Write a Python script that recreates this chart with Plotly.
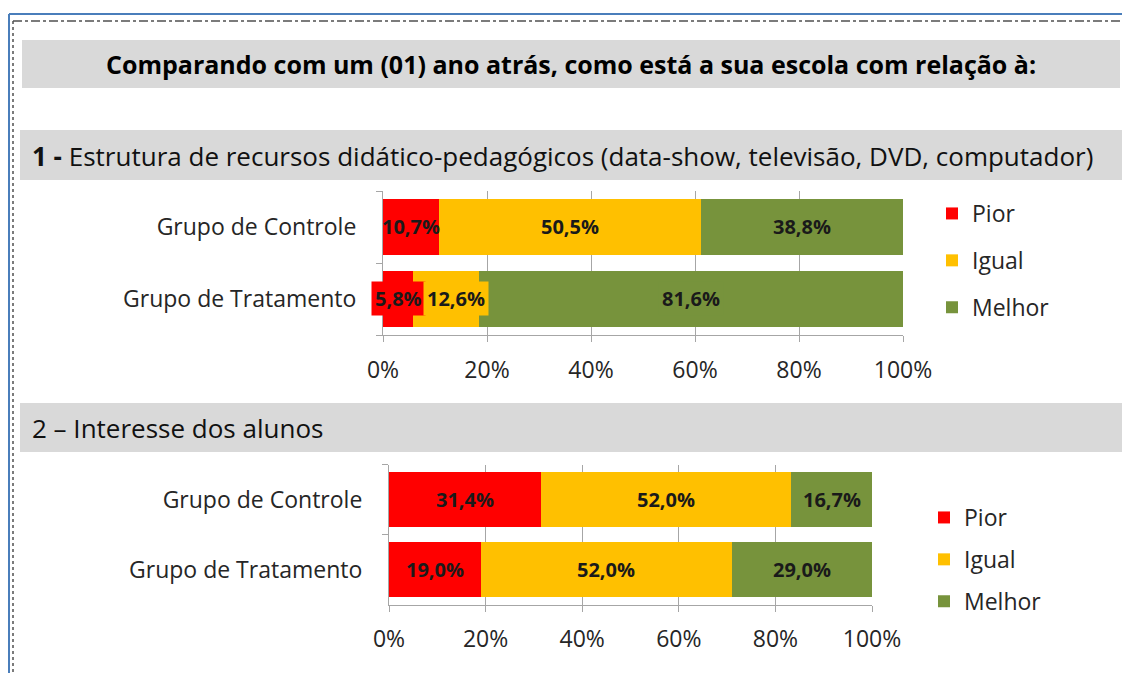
import plotly.graph_objects as go

# ---------------- data ----------------
categories = ["Grupo de Controle", "Grupo de Tratamento"]
series_names = ["Pior", "Igual", "Melhor"]
series_colors = ["#ff0000", "#ffc000", "#77933c"]

c1_pior = [10.7, 5.8]
c1_igual = [50.5, 12.6]
c1_melhor = [38.8, 81.6]

c2_pior = [31.4, 19.0]
c2_igual = [52.0, 52.0]
c2_melhor = [16.7, 29.0]

x_ticks = [0, 0.2, 0.4, 0.6, 0.8, 1.0]
x_tick_labels = ["0%", "20%", "40%", "60%", "80%", "100%"]

main_title = "<b>Comparando com um (01) ano atrás, como está a sua escola com relação à:</b>"
section1_title = "<b>1 -</b> Estrutura de recursos didático-pedagógicos (data-show, televisão, DVD, computador)"
section2_title = "2 – Interesse dos alunos"

W, H = 1130, 673
OFF = 8  # page body margin
FONT = "Open Sans"
TXT = "#262626"


def px(x):
    return (x - OFF) / W


def py(y):
    return 1 - (y - OFF) / H


fig = go.Figure()

charts = [
    ("x", "y", "legend", [c1_pior, c1_igual, c1_melhor]),
    ("x2", "y2", "legend2", [c2_pior, c2_igual, c2_melhor]),
]

annotations = []
for ci, (xa, ya, leg, data) in enumerate(charts):
    totals = [sum(d[i] for d in data) for i in range(len(categories))]
    for si, (name, color, vals) in enumerate(zip(series_names, series_colors, data)):
        fig.add_trace(go.Bar(
            y=categories, x=vals, name=name, orientation="h",
            marker=dict(color=color, line=dict(width=0)),
            xaxis=xa, yaxis=ya, legend=leg, legendgroup=f"{leg}_{name}",
            hoverinfo="skip",
        ))
    # data labels (Excel-like, with filled boxes where they overflow)
    for ki, cat in enumerate(categories):
        cum = 0.0
        for si, vals in enumerate(data):
            frac = vals[ki] / totals[ki]
            center = cum + frac / 2
            cum += frac
            filled = (ci == 0 and ki == 1)
            annotations.append(dict(
                x=center, y=cat, xref=xa, yref=ya,
                text=f"<b>{vals[ki]:.1f}%</b>".replace(".", ","),
                showarrow=False,
                font=dict(family=FONT, size=20, color="#1a1a1a"),
                bgcolor=series_colors[si] if filled else None,
                borderpad=3,
                xshift=(10 if (filled and si == 1) else 0),
            ))

axis_common_x = dict(
    range=[0, 1], tickvals=x_ticks, ticktext=x_tick_labels,
    showgrid=True, gridcolor="#a6a6a6", gridwidth=1.2,
    showline=True, linecolor="#a6a6a6", linewidth=1.2,
    ticks="outside", ticklen=6, tickcolor="#a6a6a6",
    tickfont=dict(family=FONT, size=23, color=TXT),
    ticklabelstandoff=8, zeroline=False, fixedrange=True, automargin=False,
)
axis_common_y = dict(
    categoryorder="array", categoryarray=categories[::-1],
    showline=True, linecolor="#a6a6a6", linewidth=1.2,
    ticks="outside", ticklen=6, tickcolor="#a6a6a6", tickson="boundaries",
    tickfont=dict(family=FONT, size=23, color=TXT),
    ticklabelstandoff=21, showgrid=False, fixedrange=True, automargin=False,
)

fig.update_layout(
    width=W, height=H,
    margin=dict(l=0, r=0, t=0, b=0, autoexpand=False),
    paper_bgcolor="white", plot_bgcolor="rgba(0,0,0,0)",
    barmode="stack", barnorm="fraction", bargap=0.21,
    showlegend=True,
    xaxis=dict(domain=[px(383), px(903)], anchor="y", **axis_common_x),
    yaxis=dict(domain=[py(335), py(191)], anchor="x", **axis_common_y),
    xaxis2=dict(domain=[px(389), px(872)], anchor="y2", **axis_common_x),
    yaxis2=dict(domain=[py(604.5), py(464.5)], anchor="x2", **axis_common_y),
    legend=dict(x=px(932), y=py(192), xanchor="left", yanchor="top",
                traceorder="grouped", tracegroupgap=14,
                font=dict(family=FONT, size=23, color=TXT),
                bgcolor="rgba(0,0,0,0)"),
    legend2=dict(x=px(924), y=py(496), xanchor="left", yanchor="top",
                 traceorder="grouped", tracegroupgap=9,
                 font=dict(family=FONT, size=23, color=TXT),
                 bgcolor="rgba(0,0,0,0)"),
)

shapes = [
    # outer blue frame
    dict(type="line", xref="paper", yref="paper", x0=px(9), x1=1, y0=py(14), y1=py(14),
         line=dict(color="#4a7ebb", width=2)),
    dict(type="line", xref="paper", yref="paper", x0=px(9), x1=px(9), y0=py(14), y1=0,
         line=dict(color="#4a7ebb", width=2)),
    # inner dotted frame
    dict(type="line", xref="paper", yref="paper", x0=px(13), x1=1, y0=py(21), y1=py(21),
         line=dict(color="#505050", width=1.5, dash="dashdot")),
    dict(type="line", xref="paper", yref="paper", x0=px(13), x1=px(13), y0=py(21), y1=0,
         line=dict(color="#505050", width=1.5, dash="dot")),
    # gray header boxes
    dict(type="rect", xref="paper", yref="paper", x0=px(22), x1=px(1120), y0=py(88), y1=py(40),
         fillcolor="#d9d9d9", line=dict(width=0), layer="below"),
    dict(type="rect", xref="paper", yref="paper", x0=px(20), x1=1, y0=py(180), y1=py(130),
         fillcolor="#d9d9d9", line=dict(width=0), layer="below"),
    dict(type="rect", xref="paper", yref="paper", x0=px(20), x1=1, y0=py(452), y1=py(403),
         fillcolor="#d9d9d9", line=dict(width=0), layer="below"),
]

annotations += [
    dict(x=px(571), y=py(64), xref="paper", yref="paper", text=main_title, showarrow=False,
         xanchor="center", yanchor="middle", font=dict(family=FONT, size=25, color="#000")),
    dict(x=px(30), y=py(156), xref="paper", yref="paper", text=section1_title, showarrow=False,
         xanchor="left", yanchor="middle", font=dict(family=FONT, size=26, color="#111")),
    dict(x=px(30), y=py(428), xref="paper", yref="paper", text=section2_title, showarrow=False,
         xanchor="left", yanchor="middle", font=dict(family=FONT, size=26, color="#111")),
]

fig.update_layout(shapes=shapes, annotations=annotations)
fig.write_html("out.html")
